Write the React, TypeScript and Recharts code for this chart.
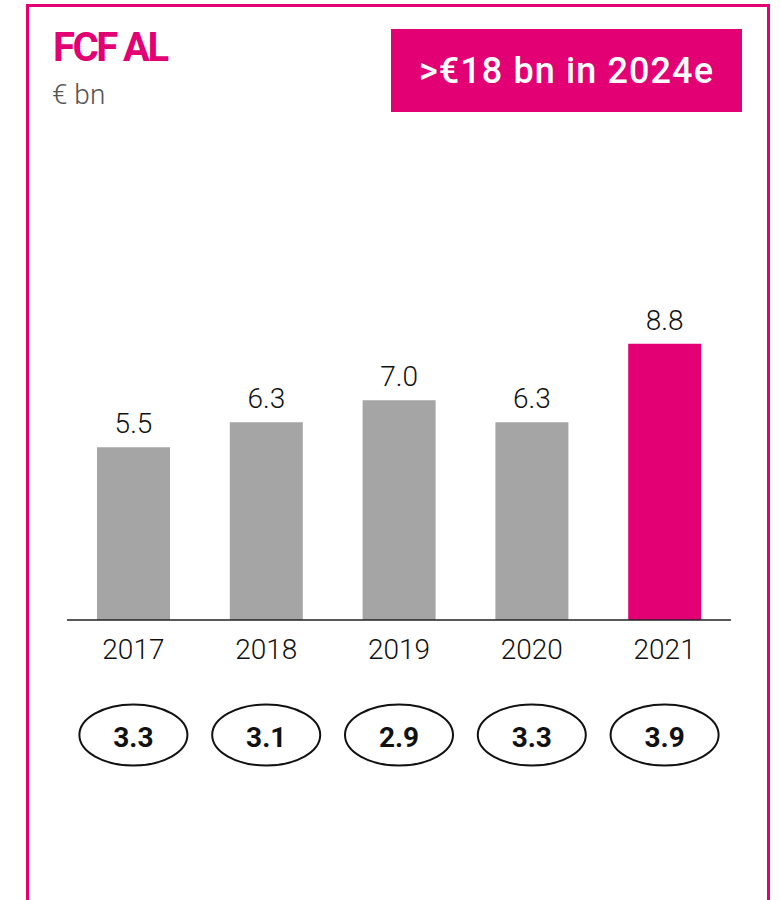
import { BarChart, Bar, XAxis, YAxis, Cell, LabelList } from "recharts"

const years = ["2017", "2018", "2019", "2020", "2021"]
const fcfValues = [5.5, 6.3, 7.0, 6.3, 8.8]
const leverageRatios = [3.3, 3.1, 2.9, 3.3, 3.9]
const highlightYear = "2021"

const MAGENTA = "#E20074"
const GREY = "#A5A5A5"
const FONT = "Roboto, 'Noto Sans', sans-serif"

const data = years.map((year, i) => ({ year, fcf: fcfValues[i] }))

function YearTick(props: any) {
  const { x, y, payload } = props
  const idx = years.indexOf(payload.value)
  const ratio = leverageRatios[idx]
  return (
    <g>
      <text x={x} y={y + 31} textAnchor="middle" fontSize={28} fontWeight={300} fontFamily={FONT} fill="#111">
        {payload.value}
      </text>
      <ellipse cx={x} cy={y + 107} rx={54} ry={30.5} fill="none" stroke="#111" strokeWidth={2} />
      <text x={x} y={y + 119} textAnchor="middle" fontSize={28} fontWeight={700} fontFamily={FONT} fill="#111">
        {ratio.toFixed(1)}
      </text>
    </g>
  )
}

export default function App() {
  return (
    <div style={{ position: "fixed", left: 0, top: 0, width: 780, height: 900, background: "#fff", overflow: "hidden", fontFamily: FONT }}>
      {/* magenta frame */}
      <div
        style={{
          position: "absolute",
          left: 26,
          top: 4,
          width: 744,
          height: 940,
          border: `3px solid ${MAGENTA}`,
          boxSizing: "border-box",
        }}
      />

      <div style={{ position: "absolute", left: 53, top: 28, fontSize: 40, lineHeight: 1, fontWeight: 700, color: MAGENTA, letterSpacing: -2.5 }}>
        FCF AL
      </div>
      <div style={{ position: "absolute", left: 52, top: 81, fontSize: 28, lineHeight: 1, fontWeight: 300, color: "#555" }}>
        € bn
      </div>

      <div
        style={{
          position: "absolute",
          left: 391,
          top: 29,
          width: 351,
          height: 83,
          background: MAGENTA,
          color: "#fff",
          display: "flex",
          alignItems: "center",
          justifyContent: "center",
          fontSize: 36,
          lineHeight: 1,
          fontWeight: 500,
          letterSpacing: 1.1,
        }}
      >
        &gt;€18 bn in 2024e
      </div>

      <div style={{ position: "absolute", left: 0, top: 0 }}>
        <BarChart width={780} height={800} data={data} margin={{ top: 306, right: 49, bottom: 30, left: 67 }}>
          <YAxis hide domain={[0, 10]} />
          <XAxis
            dataKey="year"
            interval={0}
            height={150}
            tickLine={false}
            axisLine={{ stroke: "#222", strokeWidth: 1.5 }}
            tick={<YearTick />}
          />
          <Bar dataKey="fcf" barSize={73} isAnimationActive={false}>
            {data.map((d) => (
              <Cell key={d.year} fill={d.year === highlightYear ? MAGENTA : GREY} />
            ))}
            <LabelList
              dataKey="fcf"
              position="top"
              offset={14}
              formatter={(v: any) => Number(v).toFixed(1)}
              style={{ fontSize: 28, fontWeight: 300, fontFamily: FONT, fill: "#111" }}
            />
          </Bar>
        </BarChart>
      </div>
    </div>
  )
}
